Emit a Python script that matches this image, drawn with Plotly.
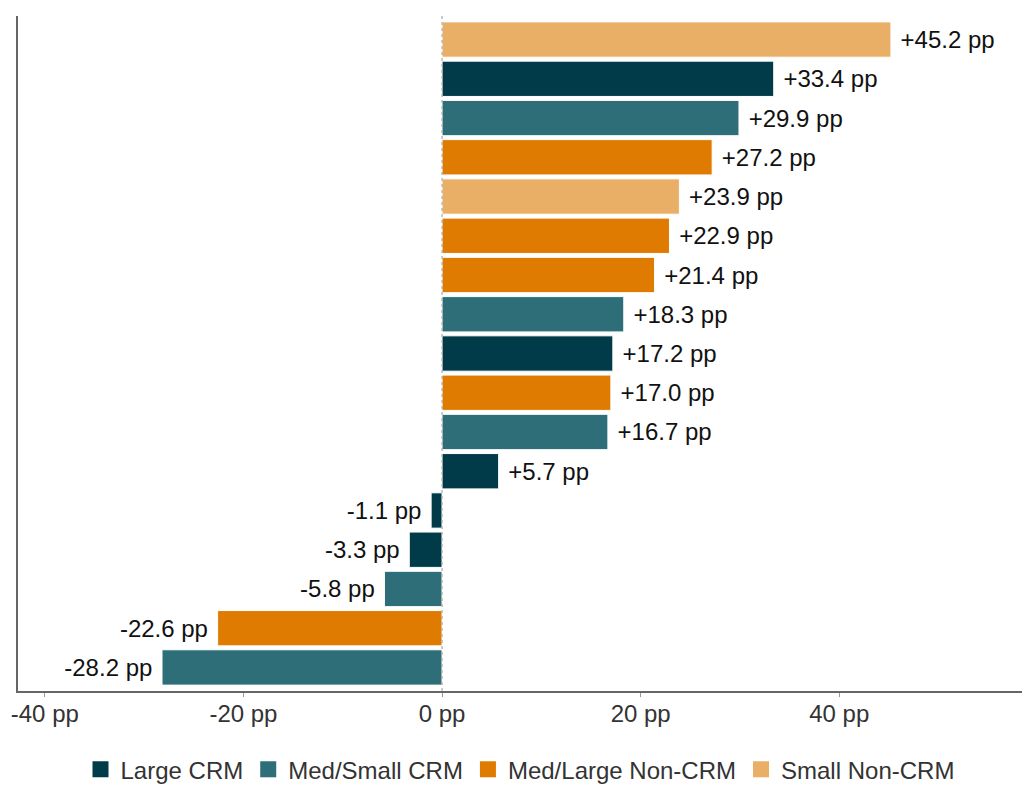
import plotly.graph_objects as go

# Data (top to bottom)
items = [f"Item {i}" for i in range(1, 18)]
values = [45.2, 33.4, 29.9, 27.2, 23.9, 22.9, 21.4, 18.3, 17.2, 17.0, 16.7, 5.7, -1.1, -3.3, -5.8, -22.6, -28.2]
groups = ["Small Non-CRM", "Large CRM", "Med/Small CRM", "Med/Large Non-CRM", "Small Non-CRM",
          "Med/Large Non-CRM", "Med/Large Non-CRM", "Med/Small CRM", "Large CRM", "Med/Large Non-CRM",
          "Med/Small CRM", "Large CRM", "Large CRM", "Large CRM", "Med/Small CRM",
          "Med/Large Non-CRM", "Med/Small CRM"]
group_order = ["Large CRM", "Med/Small CRM", "Med/Large Non-CRM", "Small Non-CRM"]
colors = {"Large CRM": "#013B4A", "Med/Small CRM": "#2E6E78",
          "Med/Large Non-CRM": "#DE7B00", "Small Non-CRM": "#EAAF66"}
tick_vals = [-40, -20, 0, 20, 40]
tick_text = ["-40 pp", "-20 pp", "0 pp", "20 pp", "40 pp"]

FONT = "Liberation Sans, Arial, sans-serif"
NB = "\u00a0"

def label(v):
    s = f"{v:+.1f} pp"
    return NB + s if v >= 0 else s + NB

fig = go.Figure()
for g in group_order:
    ys = [it for it, gg in zip(items, groups) if gg == g]
    xs = [v for v, gg in zip(values, groups) if gg == g]
    fig.add_trace(go.Bar(
        x=xs, y=ys, orientation="h", name=g, showlegend=False,
        marker=dict(color=colors[g], line=dict(color="white", width=1)),
        text=[label(v) for v in xs], textposition="outside",
        textfont=dict(family=FONT, size=24, color="#111111"),
        cliponaxis=False, constraintext="none",
    ))
    fig.add_trace(go.Scatter(
        x=[None], y=[None], mode="markers", name=g,
        marker=dict(symbol="square", size=18, color=colors[g]),
    ))

fig.add_shape(type="line", xref="x", yref="paper", x0=0, x1=0, y0=0, y1=1,
              line=dict(color="#AAAAAA", width=1.2, dash="3px,3px"), layer="above")

fig.update_layout(
    width=1022, height=787,
    margin=dict(l=18, r=0, t=16, b=96),
    paper_bgcolor="white", plot_bgcolor="white",
    bargap=0.1, barmode="overlay",
    font=dict(family=FONT, size=24, color="#333333"),
    showlegend=True,
    legend=dict(orientation="h", x=0.5, xanchor="center",
                yref="container", y=0.022, yanchor="middle",
                font=dict(family=FONT, size=24, color="#333333"),
                itemwidth=30, tracegroupgap=0),
    xaxis=dict(range=[-42.7, 58.4], tickvals=tick_vals, ticktext=tick_text,
               showgrid=False, zeroline=False, showline=True, linecolor="#666666",
               linewidth=1.5, ticks="outside", ticklen=4, tickcolor="#999999",
               ticklabelstandoff=-4,
               tickfont=dict(family=FONT, size=24, color="#333333")),
    yaxis=dict(categoryorder="array", categoryarray=items[::-1], range=[-0.6, 16.6],
               showticklabels=False, showgrid=False, zeroline=False,
               showline=True, linecolor="#666666", linewidth=1.5, ticks=""),
)

fig.write_html("out.html")
